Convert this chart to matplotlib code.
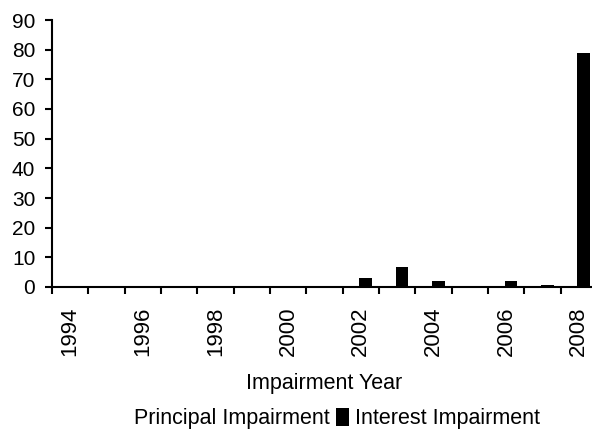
import numpy as np
import matplotlib
matplotlib.use("Agg")
import matplotlib.pyplot as plt
from matplotlib.patches import Patch

plt.rcParams['font.family'] = ['Liberation Sans', 'DejaVu Sans']

# data
years = list(range(1994, 2009))
principal = [0] * 15
interest = [0, 0, 0, 0, 0, 0, 0, 0, 2.9, 6.6, 2.15, 0, 2.15, 0.8, 79.0]
tick_years = [1994, 1996, 1998, 2000, 2002, 2004, 2006, 2008]

fig = plt.figure(figsize=(5.92, 4.34), dpi=100)
# the plot area runs a little past the right edge of the picture (clipped like the original)
ax = fig.add_axes([52 / 592, 1 - 287 / 434, 545 / 592, 267 / 434])

x = np.arange(len(years))
w = 0.35
ax.bar(x - 0.13, principal, width=w, color="white", label="Principal Impairment")
ax.bar(x + 0.13, interest, width=w, color="black", label="Interest Impairment")

ax.set_xlim(-0.5, len(years) - 0.5)
ax.set_ylim(0, 90)
ax.set_yticks(range(0, 91, 10))

# ticks sit on category boundaries, labels in the middle of every other category
ax.set_xticks(np.arange(len(years) + 1) - 0.5)
ax.set_xticklabels([])
ax.set_xticks([years.index(y) for y in tick_years], minor=True)
ax.set_xticklabels([str(y) for y in tick_years], minor=True, rotation=90)
ax.tick_params(axis="x", which="minor", length=0, pad=14, labelsize=16)
ax.tick_params(axis="x", which="major", length=5, width=1.5, direction="out")
ax.tick_params(axis="y", length=5, width=1.5, direction="out", labelsize=15, pad=7)

for s in ["top", "right"]:
    ax.spines[s].set_visible(False)
for s in ["left", "bottom"]:
    ax.spines[s].set_linewidth(1.5)

ax.set_xlabel("Impairment Year", fontsize=15.5, labelpad=12)

handles = [Patch(facecolor="white", edgecolor="none"), Patch(facecolor="black")]
fig.legend(handles, ["Principal Impairment", "Interest Impairment"], ncol=2,
           loc="center", bbox_to_anchor=(0.553, 0.035), frameon=False,
           fontsize=15.5, handlelength=0.6, handleheight=0.9, handletextpad=0.3,
           columnspacing=0.3, borderpad=0)

fig.savefig("out.png", dpi=100)
